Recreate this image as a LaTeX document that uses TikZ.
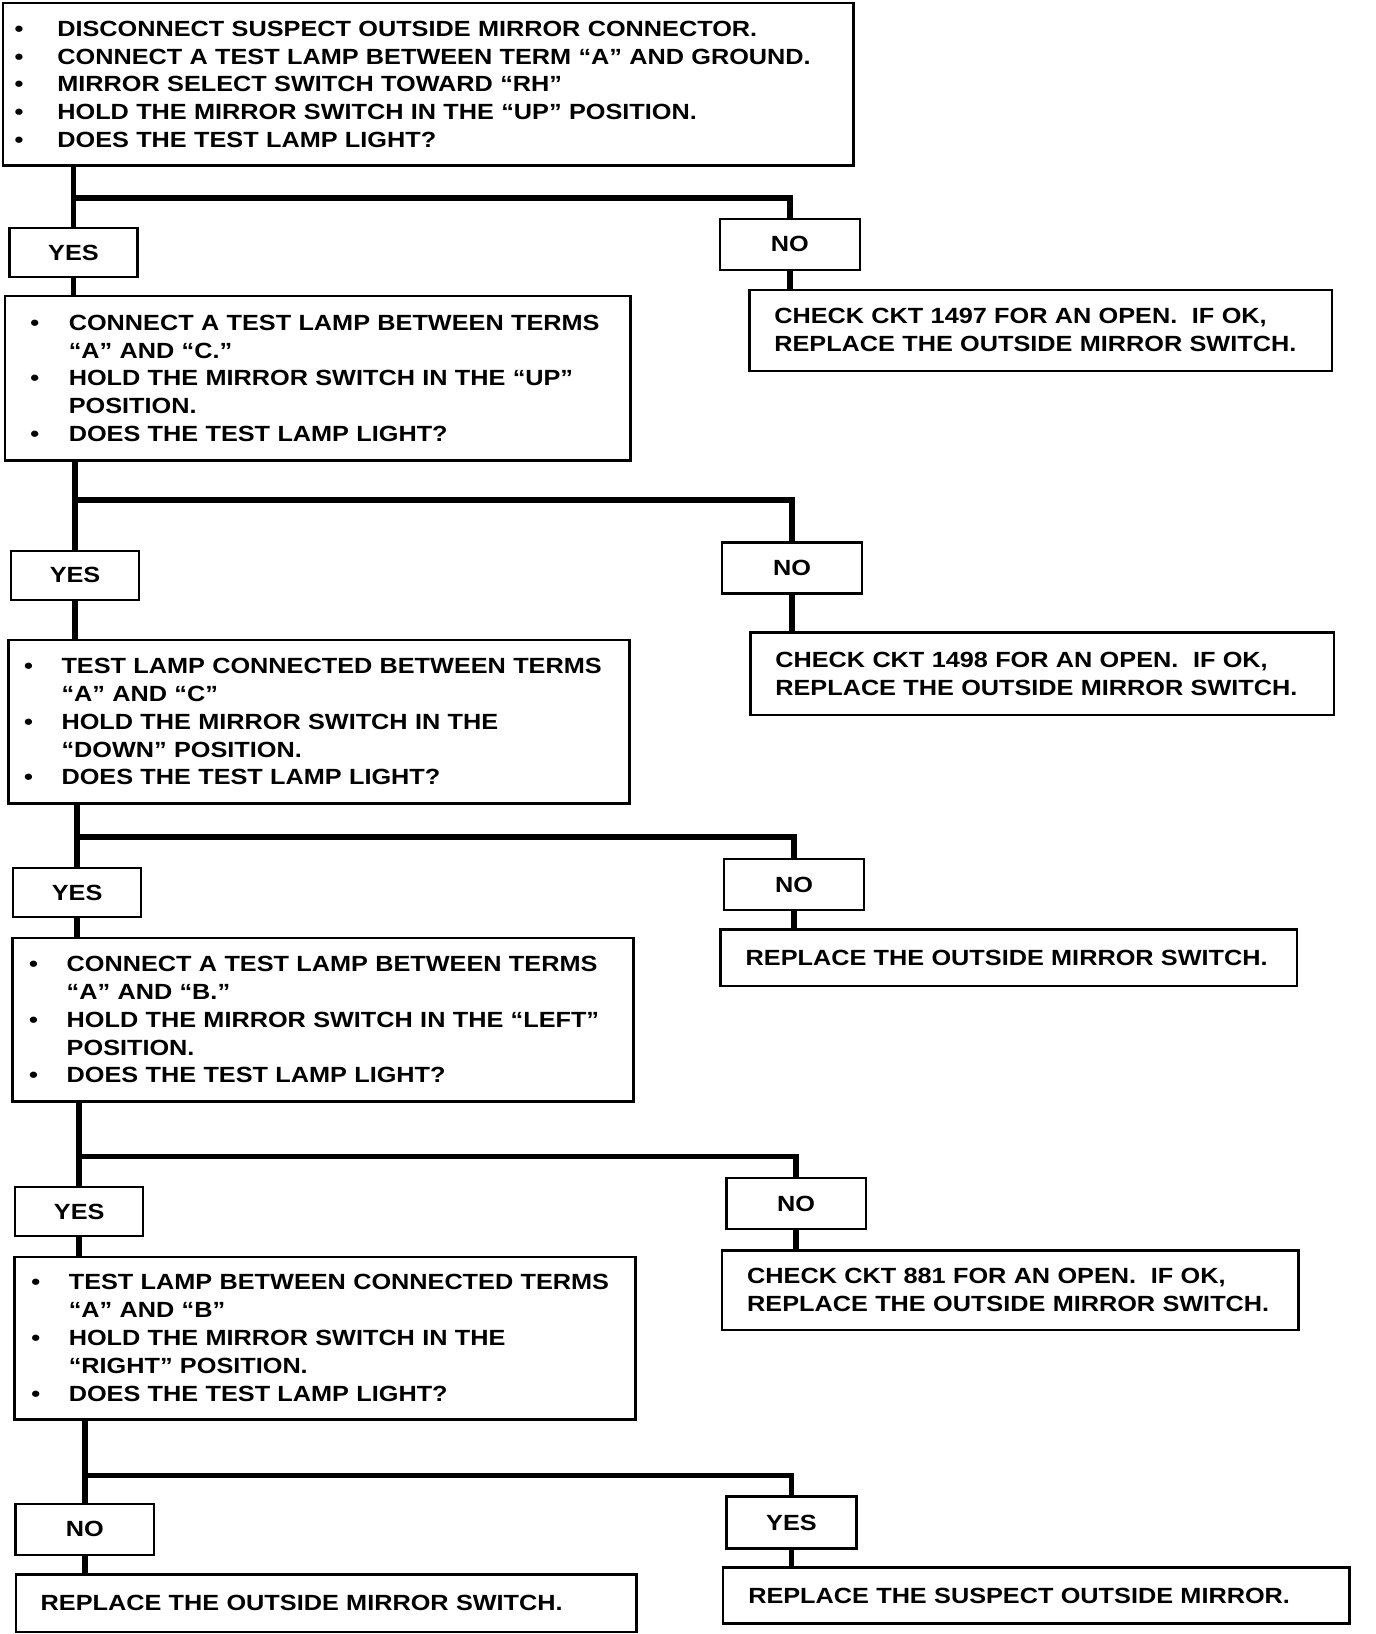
\documentclass[tikz,border=0pt]{standalone}
\usepackage{fontspec}
\newfontfamily\chartfont[FakeStretch=1.15]{Liberation Sans}
\newcommand{\bit}[2][0.72cm]{\makebox[#1][l]{\textbullet}#2}
\newcommand{\cont}[2][0.72cm]{\hspace*{#1}#2}

\begin{document}
\begin{tikzpicture}[x=0.02cm, y=-0.02cm,
    every node/.style={font=\chartfont\bfseries\fontsize{12}{15.2}\selectfont},
    stepbox/.style={draw, line width=1.3pt, align=left, inner ysep=0pt},
    resbox/.style={draw, line width=1.3pt, align=left, inner xsep=0.48cm, inner ysep=0pt},
    answer/.style={draw, line width=1.3pt, inner sep=0pt, align=center},
    flow/.style={line width=3pt}]

  \useasboundingbox (0,0) rectangle (1320,1568);

  % question boxes down the left side
  \node[stepbox, inner xsep=0.22cm, text width=15.88cm, minimum height=3.12cm] (q1) at (411,81) {%
    \bit[0.82cm]{DISCONNECT SUSPECT OUTSIDE MIRROR CONNECTOR.}\\
    \bit[0.82cm]{CONNECT A TEST LAMP BETWEEN TERM “A” AND GROUND.}\\
    \bit[0.82cm]{MIRROR SELECT SWITCH TOWARD “RH”}\\
    \bit[0.82cm]{HOLD THE MIRROR SWITCH IN THE “UP” POSITION.}\\
    \bit[0.82cm]{DOES THE TEST LAMP LIGHT?}};

  \node[stepbox, inner xsep=0.48cm, text width=11.04cm, minimum height=3.16cm] (q2) at (305,363) {%
    \bit[0.74cm]{CONNECT A TEST LAMP BETWEEN TERMS}\\
    \cont[0.74cm]{“A” AND “C.”}\\
    \bit[0.74cm]{HOLD THE MIRROR SWITCH IN THE “UP”}\\
    \cont[0.74cm]{POSITION.}\\
    \bit[0.74cm]{DOES THE TEST LAMP LIGHT?}};

  \node[stepbox, inner xsep=0.3cm, text width=11.32cm, minimum height=3.14cm] (q3) at (306,692.5) {%
    \bit{TEST LAMP CONNECTED BETWEEN TERMS}\\
    \cont{“A” AND “C”}\\
    \bit{HOLD THE MIRROR SWITCH IN THE}\\
    \cont{“DOWN” POSITION.}\\
    \bit{DOES THE TEST LAMP LIGHT?}};

  \node[stepbox, inner xsep=0.32cm, text width=11.28cm, minimum height=3.14cm] (q4) at (310,978.5) {%
    \bit{CONNECT A TEST LAMP BETWEEN TERMS}\\
    \cont{“A” AND “B.”}\\
    \bit{HOLD THE MIRROR SWITCH IN THE “LEFT”}\\
    \cont{POSITION.}\\
    \bit{DOES THE TEST LAMP LIGHT?}};

  \node[stepbox, inner xsep=0.32cm, text width=11.28cm, minimum height=3.12cm] (q5) at (312,1284) {%
    \bit{TEST LAMP BETWEEN CONNECTED TERMS}\\
    \cont{“A” AND “B”}\\
    \bit{HOLD THE MIRROR SWITCH IN THE}\\
    \cont{“RIGHT” POSITION.}\\
    \bit{DOES THE TEST LAMP LIGHT?}};

  \node[resbox, text width=10.96cm, minimum height=1.1cm] (fin) at (313,1538.5) {REPLACE THE OUTSIDE MIRROR SWITCH.};

  % answer labels
  \node[answer, minimum width=2.46cm, minimum height=0.94cm] (l1) at (70.5,242.5) {YES};
  \node[answer, minimum width=2.46cm, minimum height=0.94cm] (l2) at (72,552) {YES};
  \node[answer, minimum width=2.46cm, minimum height=0.94cm] (l3) at (74,856.5) {YES};
  \node[answer, minimum width=2.46cm, minimum height=0.94cm] (l4) at (76,1162.5) {YES};
  \node[answer, minimum width=2.66cm, minimum height=0.98cm] (l5) at (81.5,1467.5) {NO};

  \node[answer, minimum width=2.68cm, minimum height=0.98cm] (r1) at (758,234.5) {NO};
  \node[answer, minimum width=2.68cm, minimum height=0.98cm] (r2) at (760,545) {NO};
  \node[answer, minimum width=2.68cm, minimum height=0.98cm] (r3) at (762,849) {NO};
  \node[answer, minimum width=2.68cm, minimum height=0.98cm] (r4) at (764,1155) {NO};
  \node[answer, minimum width=2.5cm, minimum height=1cm] (r5) at (759.5,1461) {YES};

  % results on the right
  \node[resbox, text width=10.22cm, minimum height=1.56cm] (c1) at (998.5,317) {CHECK CKT 1497 FOR AN OPEN.\ \ IF OK,\\REPLACE THE OUTSIDE MIRROR SWITCH.};
  \node[resbox, text width=10.24cm, minimum height=1.58cm] (c2) at (1000,646.5) {CHECK CKT 1498 FOR AN OPEN.\ \ IF OK,\\REPLACE THE OUTSIDE MIRROR SWITCH.};
  \node[resbox, text width=10.1cm, minimum height=1.08cm] (c3) at (968,919) {REPLACE THE OUTSIDE MIRROR SWITCH.};
  \node[resbox, text width=10.1cm, minimum height=1.52cm] (c4) at (969.5,1238) {CHECK CKT 881 FOR AN OPEN.\ \ IF OK,\\REPLACE THE OUTSIDE MIRROR SWITCH.};
  \node[resbox, text width=11.06cm, minimum height=1.08cm] (c5) at (994.5,1531) {REPLACE THE SUSPECT OUTSIDE MIRROR.};

  % branch levels
  \coordinate (j1) at (0,190);
  \coordinate (j2) at (0,480);
  \coordinate (j3) at (0,803);
  \coordinate (j4) at (0,1110);
  \coordinate (j5) at (0,1416);

  \foreach \i in {1,...,5} {
    \draw[flow] (q\i.south -| l\i.north) -- (l\i.north);
    \draw[flow] (l\i.north |- j\i) -| (r\i.north);
    \draw[flow] (r\i.south) -- (r\i.south |- c\i.north);
  }
  \foreach \i/\k in {1/2,2/3,3/4,4/5}
    \draw[flow] (l\i.south) -- (l\i.south |- q\k.north);
  \draw[flow] (l5.south) -- (l5.south |- fin.north);

\end{tikzpicture}
\end{document}
